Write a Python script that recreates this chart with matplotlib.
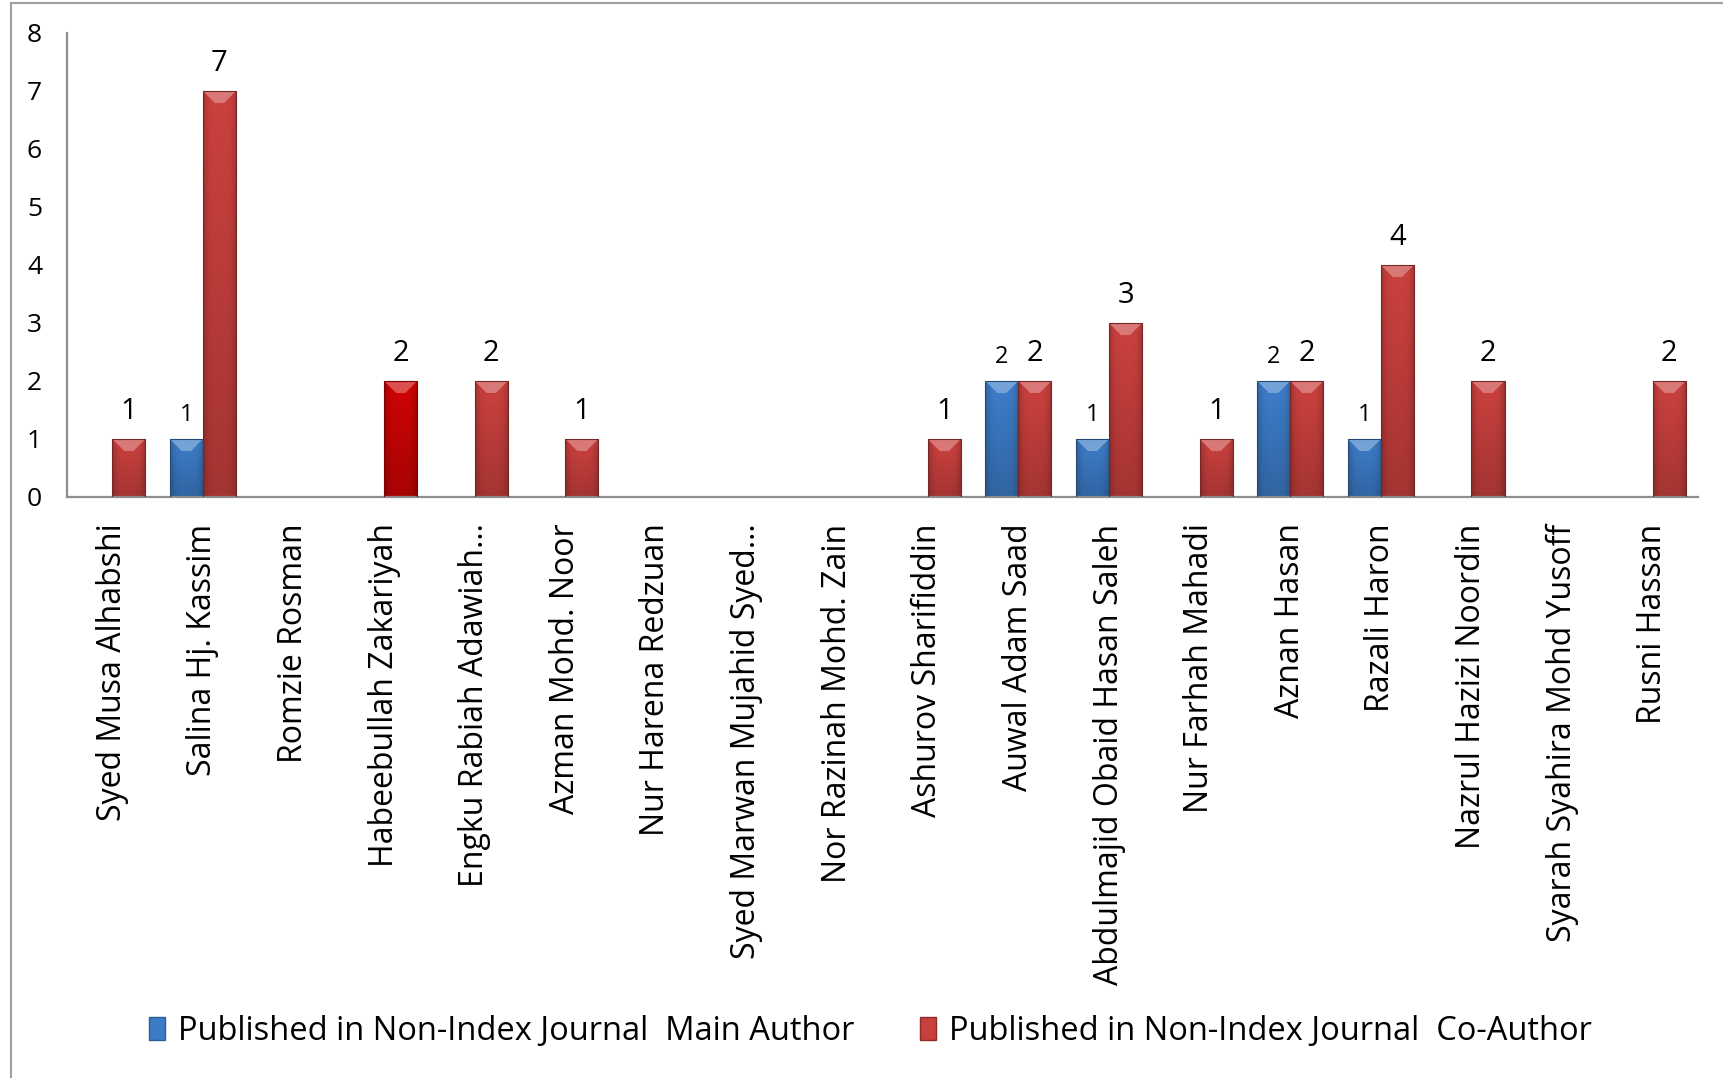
import numpy as np
import matplotlib
matplotlib.use('Agg')
import matplotlib.pyplot as plt
from matplotlib.patches import Polygon, Rectangle
from matplotlib.colors import to_rgb

names = [
    'Syed Musa Alhabshi', 'Salina Hj. Kassim', 'Romzie Rosman',
    'Habeebullah Zakariyah', 'Engku Rabiah Adawiah…', 'Azman Mohd. Noor',
    'Nur Harena Redzuan', 'Syed Marwan Mujahid Syed…', 'Nor Razinah Mohd. Zain',
    'Ashurov Sharifiddin', 'Auwal Adam Saad', 'Abdulmajid Obaid Hasan Saleh',
    'Nur Farhah Mahadi', 'Aznan Hasan', 'Razali Haron', 'Nazrul Hazizi Noordin',
    'Syarah Syahira Mohd Yusoff', 'Rusni Hassan',
]
main_author = [0, 1, 0, 0, 0, 0, 0, 0, 0, 0, 2, 1, 0, 2, 1, 0, 0, 0]
co_author = [1, 7, 0, 2, 2, 1, 0, 0, 0, 1, 2, 3, 1, 2, 4, 2, 0, 2]
series_labels = ['Published in Non-Index Journal  Main Author',
                 'Published in Non-Index Journal  Co-Author']
y_ticks = [0, 1, 2, 3, 4, 5, 6, 7, 8]

BLUE = '#3c7bc6'
RED = '#c8403d'
RED_BRIGHT = '#cc0404'   # the one bar drawn in plain red
AXIS_GREY = '#8e8e8e'

plt.rcParams['font.family'] = ['Open Sans', 'DejaVu Sans']

W, H = 1724, 1078
fig = plt.figure(figsize=(W / 100, H / 100), dpi=100)
ax = fig.add_axes([67 / W, 1 - 497 / H, (1698 - 67) / W, (497 - 33) / H])

x = np.arange(len(names))
bw = 0.365
blue_bars = ax.bar(x - bw / 2, main_author, bw, color=BLUE, label=series_labels[0], zorder=2)
red_bars = ax.bar(x + bw / 2, co_author, bw, color=RED, label=series_labels[1], zorder=2)
red_bars[names.index('Habeebullah Zakariyah')].set_facecolor(RED_BRIGHT)

ax.set_xlim(-0.5, len(names) - 0.5)
ax.set_ylim(0, 8)
ax.set_yticks(y_ticks)
ax.set_yticklabels([str(t) for t in y_ticks], fontsize=19)
ax.set_xticks(x)
ax.set_xticklabels(names, rotation=90, fontsize=23)
ax.tick_params(axis='x', length=0, pad=19)
ax.tick_params(axis='y', length=0, pad=18)
for s in ['top', 'right']:
    ax.spines[s].set_visible(False)
for s in ['left', 'bottom']:
    ax.spines[s].set_color(AXIS_GREY)
    ax.spines[s].set_linewidth(1.6)

# pixel size in data units, for the bevel
p0 = ax.transData.transform((0, 0))
px_x = 1 / (ax.transData.transform((1, 0))[0] - p0[0])
px_y = 1 / (ax.transData.transform((0, 1))[1] - p0[1])


def shade(bar):
    h = bar.get_height()
    if h <= 0:
        bar.set_linewidth(0)
        return
    base = np.array(to_rgb(bar.get_facecolor()))
    x0, y0, w = bar.get_x(), bar.get_y(), bar.get_width()
    xf = np.linspace(0, 1, 40)[None, :]
    yf = np.linspace(0, 1, 80)[:, None]
    hor = 1 - 0.22 * np.abs(2 * xf - 1) ** 4
    ver = 0.82 + 0.2 * yf
    img = np.clip(base[None, None, :] * (hor * ver)[:, :, None], 0, 1)
    im = ax.imshow(img, extent=[x0, x0 + w, y0, y0 + h], origin='lower',
                   aspect='auto', zorder=2.5, interpolation='bilinear')
    im.set_clip_path(bar)
    bar.set_edgecolor(base * 0.6)
    bar.set_linewidth(0.8)
    bar.set_zorder(2.6)
    bar.set_facecolor('none')
    top = y0 + h
    bx, by = 12 * px_x, 12 * px_y
    light = base + (1 - base) * 0.3
    ax.add_patch(Polygon([(x0, top), (x0 + w, top), (x0 + w - bx, top - by), (x0 + bx, top - by)],
                         closed=True, facecolor=light, edgecolor='none', zorder=2.55))


for b in list(blue_bars) + list(red_bars):
    shade(b)

for b, v in zip(blue_bars, main_author):
    if v:
        ax.annotate(str(v), (b.get_x() + b.get_width() / 2, v), xytext=(0, 13),
                    textcoords='offset points', ha='center', va='baseline', fontsize=17)
for b, v in zip(red_bars, co_author):
    if v:
        ax.annotate(str(v), (b.get_x() + b.get_width() / 2, v), xytext=(0, 14.5),
                    textcoords='offset points', ha='center', va='baseline', fontsize=21)

ax.set_xlim(-0.5, len(names) - 0.5)
ax.set_ylim(0, 8)

handles = [Rectangle((0, 0), 1, 1, facecolor=BLUE, edgecolor='#2d5d96'),
           Rectangle((0, 0), 1, 1, facecolor=RED, edgecolor='#8c2c2a')]
fig.legend(handles, series_labels, loc='center', bbox_to_anchor=(0.505, 1 - 1031 / H),
           ncol=2, frameon=False, fontsize=23.5, handlelength=0.5, handleheight=0.7,
           handletextpad=0.4, columnspacing=2.0)

# outer chart border (cut off at right and bottom)
fig.add_artist(Rectangle((11 / W, -0.05), 1.2, 1.05 - 3 / H, transform=fig.transFigure,
                         fill=False, edgecolor='#a0a0a0', linewidth=1.5))

fig.savefig('out.png', dpi=100)
